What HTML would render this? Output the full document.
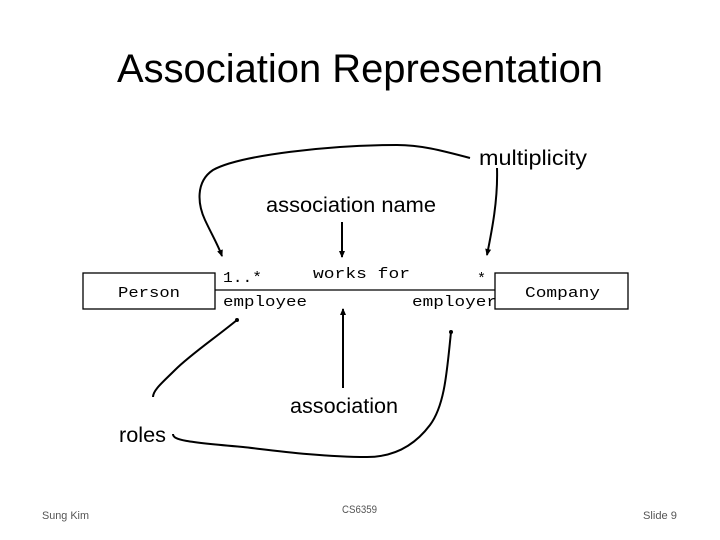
<!DOCTYPE html>
<html><head><meta charset="utf-8"><style>html,body{margin:0;padding:0;background:#fff}svg{display:block}</style></head>
<body>
<svg width="720" height="540" viewBox="0 0 720 540" xmlns="http://www.w3.org/2000/svg">
<defs>
<marker id="ah" markerWidth="8" markerHeight="8" refX="6" refY="4" orient="auto" markerUnits="userSpaceOnUse">
<path d="M0,1 L7,4 L0,7 Z" fill="#000"/></marker>
</defs>
<g font-family="'Liberation Sans', sans-serif" fill="#000">
<text x="360" y="82" font-size="40" text-anchor="middle" textLength="486" lengthAdjust="spacingAndGlyphs">Association Representation</text>
<text x="479" y="165" font-size="21" textLength="108" lengthAdjust="spacingAndGlyphs">multiplicity</text>
<text x="266" y="212" font-size="21" textLength="170" lengthAdjust="spacingAndGlyphs">association name</text>
<text x="290" y="413" font-size="21" textLength="108" lengthAdjust="spacingAndGlyphs">association</text>
<text x="119" y="442" font-size="21" textLength="47" lengthAdjust="spacingAndGlyphs">roles</text>
<g fill="#555" font-size="11">
<text x="42" y="519" textLength="47" lengthAdjust="spacingAndGlyphs">Sung Kim</text>
<text x="342" y="513" textLength="35" lengthAdjust="spacingAndGlyphs">CS6359</text>
<text x="643" y="519" textLength="34" lengthAdjust="spacingAndGlyphs">Slide 9</text>
</g>
</g>
<g font-family="'Liberation Mono', monospace" font-size="15" fill="#000">
<text x="118" y="297" textLength="62" lengthAdjust="spacingAndGlyphs">Person</text>
<text x="525" y="297" textLength="75" lengthAdjust="spacingAndGlyphs">Company</text>
<text x="223" y="282" textLength="39" lengthAdjust="spacingAndGlyphs">1..*</text>
<text x="313" y="278" textLength="97" lengthAdjust="spacingAndGlyphs">works for</text>
<text x="477" y="283">*</text>
<text x="223" y="306" textLength="84" lengthAdjust="spacingAndGlyphs">employee</text>
<text x="412" y="306" textLength="85" lengthAdjust="spacingAndGlyphs">employer</text>
</g>
<g fill="none" stroke="#000" stroke-width="1.3">
<rect x="83" y="273" width="132" height="36"/>
<rect x="495" y="273" width="133" height="36"/>
<line x1="215" y1="290" x2="495" y2="290"/>
</g>
<g fill="none" stroke="#000" stroke-width="2">
<path d="M470,158 C440,150 420,145 397,145 C330,145 240,155 213,170 C195,182 198,205 205,220 C212,235 218,245 222,256" marker-end="url(#ah)"/>
<path d="M497,168 C498,200 492,230 487,255" marker-end="url(#ah)"/>
<path d="M342,222 L342,257" marker-end="url(#ah)"/>
<path d="M343,388 L343,309" marker-end="url(#ah)"/>
<path d="M237,320 C215,338 190,355 175,370 C163,382 153,390 153,397"/>
<path d="M451,332 C447,370 445,405 430,425 C415,445 395,457 367,457 C320,457 270,450 243,447 C185,442 173,440 173,434"/>
</g>
<circle cx="237" cy="320" r="2" fill="#000"/>
<circle cx="451" cy="332" r="2" fill="#000"/>
</svg>
</body></html>
